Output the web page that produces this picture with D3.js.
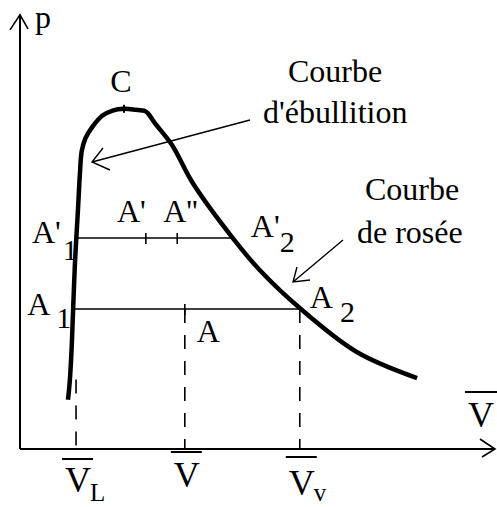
<!DOCTYPE html>
<html>
<head>
<meta charset="utf-8">
<script src="https://cdn.jsdelivr.net/npm/d3@7"></script>
<style>
  html, body { margin: 0; padding: 0; background: #fff; }
  svg { display: block; }
  text { font-family: "Liberation Serif", "Times New Roman", serif; fill: #000; }
</style>
</head>
<body>
<svg id="chart" width="497" height="507"></svg>
<script>
// Saturation dome of a binary mixture: pressure p against molar volume V̄.
// Bubble curve (left branch) joins the dew curve (right branch) at the critical point C.
const curveVolume   = [1.01, 1.05, 1.09, 1.12, 1.16, 1.22, 1.26, 1.30, 1.38, 1.52, 1.73, 1.95, 2.19, 2.43, 2.63, 2.69, 2.84, 3.20, 3.64, 4.48, 5.05, 5.89, 7.09, 8.36];
const curvePressure = [1.13, 1.59, 2.39, 3.26, 4.34, 5.49, 6.30, 6.85, 7.15, 7.40, 7.66, 7.78, 7.82, 7.80, 7.77, 7.72, 7.49, 6.99, 6.11, 4.85, 4.11, 3.24, 2.23, 1.63];

// Tie lines (isobars crossing the two-phase region)
const tieNames      = ["A'1", "A1"];
const tiePressure   = [4.85, 3.22];
const tieLiquid     = [1.22, 1.14];
const tieVapour     = [4.48, 5.89];

// Intermediate states marked on the tie lines
const markNames     = ["A'", "A''", "A"];
const markVolume    = [2.65, 3.31, 3.47];
const markPressure  = [4.85, 4.85, 3.22];

// Reference volumes projected onto the abscissa
const dropNames     = ["L", "", "v"];
const dropVolume    = [1.18, 3.47, 5.89];
const dropTop       = [1.60, 3.22, 3.22];

const critical      = { v: 2.19, p: 7.82 };

const svg = d3.select("#chart");
const x = d3.scaleLinear().domain([0, 10]).range([20, 495]);
const y = d3.scaleLinear().domain([0, 10]).range([449, 14]);

const curvePts = curveVolume.map((v, i) => [v, curvePressure[i]]);

// ---- axes with open arrowheads ----
const axisG = svg.append("g").attr("stroke", "#000").attr("stroke-width", 2).attr("fill", "none");
axisG.append("line").attr("x1", x(0)).attr("y1", y(0)).attr("x2", x(0)).attr("y2", y(9.98));
axisG.append("line").attr("x1", x(0)).attr("y1", y(0)).attr("x2", x(10)).attr("y2", y(0));
axisG.append("path").attr("stroke-width", 1.6)
  .attr("d", `M${x(0) - 10},${y(9.98) + 15} L${x(0)},${y(9.98)} L${x(0) + 8},${y(9.98) + 14}`);
axisG.append("path").attr("stroke-width", 1.6)
  .attr("d", `M${x(10) - 15},${y(0) - 10} L${x(10)},${y(0)} L${x(10) - 13},${y(0) + 8}`);

svg.append("text").attr("x", x(0) + 15).attr("y", 28).attr("font-size", 32).text("p");

// right-hand axis label: V with overbar
svg.append("line").attr("x1", 465).attr("x2", 497).attr("y1", 392).attr("y2", 392)
  .attr("stroke", "#000").attr("stroke-width", 2);
svg.append("text").attr("x", 481).attr("y", 427).attr("text-anchor", "middle")
  .attr("font-size", 36).text("V");

// ---- dashed projections to the volume axis ----
svg.append("g").selectAll("line").data(dropVolume).join("line")
  .attr("x1", d => x(d)).attr("x2", d => x(d))
  .attr("y1", (d, i) => y(dropTop[i])).attr("y2", y(0))
  .attr("stroke", "#000").attr("stroke-width", 1.6)
  .attr("stroke-dasharray", "14,12");

// ---- tie lines ----
svg.append("g").selectAll("line").data(tiePressure).join("line")
  .attr("x1", (d, i) => x(tieLiquid[i])).attr("x2", (d, i) => x(tieVapour[i]))
  .attr("y1", d => y(d)).attr("y2", d => y(d))
  .attr("stroke", "#000").attr("stroke-width", 1.6);

// ticks for the intermediate states
svg.append("g").selectAll("line").data(markVolume).join("line")
  .attr("x1", d => x(d)).attr("x2", d => x(d))
  .attr("y1", (d, i) => y(markPressure[i]) - 5).attr("y2", (d, i) => y(markPressure[i]) + 6)
  .attr("stroke", "#000").attr("stroke-width", 1.6);

// ---- saturation curve ----
svg.append("path").datum(curvePts)
  .attr("d", d3.line().x(d => x(d[0])).y(d => y(d[1])).curve(d3.curveCatmullRom.alpha(0.5)))
  .attr("fill", "none").attr("stroke", "#000").attr("stroke-width", 4.5)
  .attr("stroke-linejoin", "round");

// critical point tick
svg.append("line").attr("x1", x(critical.v)).attr("x2", x(critical.v))
  .attr("y1", y(critical.p) - 4).attr("y2", y(critical.p) + 4)
  .attr("stroke", "#000").attr("stroke-width", 2);
svg.append("text").attr("x", x(critical.v) - 3).attr("y", y(critical.p) - 17)
  .attr("text-anchor", "middle").attr("font-size", 32).text("C");

// ---- point labels (main letter + optional subscript in one text) ----
function label(px, py, main, sub, subDx, subDy) {
  const t = svg.append("text").attr("x", px).attr("y", py).attr("font-size", 32);
  t.append("tspan").text(main);
  if (sub) t.append("tspan").attr("dx", subDx).attr("dy", subDy).attr("font-size", 30).text(sub);
}
// A'1 and A1 on the liquid side
label(x(tieLiquid[0]) - 46, y(tiePressure[0]) + 5, "A'", "1", 2, 17);
label(x(tieLiquid[1]) - 47, y(tiePressure[1]) + 6, "A", "1", 6, 13);
// A'2 and A2 on the vapour side
label(x(tieVapour[0]) + 18, y(tiePressure[0]) - 1, "A'", "2", 0, 15);
label(x(tieVapour[1]) + 10, y(tiePressure[1]) - 1, "A", "2", 7, 14);
// intermediate states
label(x(markVolume[0]) - 29, y(markPressure[0]) - 16, markNames[0]);
label(x(markVolume[1]) - 14, y(markPressure[1]) - 16, markNames[1]);
label(x(markVolume[2]) + 12, y(markPressure[2]) + 33, markNames[2]);

// ---- labels under the volume axis ----
const baseY  = [492, 487, 495];
const barY   = [459, 452, 457];
dropVolume.forEach((v, i) => {
  const cx = x(v) + 1;
  svg.append("line").attr("x1", cx - 15).attr("x2", cx + 16).attr("y1", barY[i]).attr("y2", barY[i])
    .attr("stroke", "#000").attr("stroke-width", 2);
  const t = svg.append("text").attr("x", cx - 12).attr("y", baseY[i]).attr("font-size", 36);
  t.append("tspan").text("V");
  if (dropNames[i]) t.append("tspan").attr("dx", -1).attr("dy", i === 0 ? 9 : 6)
    .attr("font-size", 25).text(dropNames[i]);
});

// ---- curve names with pointer arrows ----
svg.append("text").attr("x", 288).attr("y", 82).attr("font-size", 32).text("Courbe");
svg.append("text").attr("x", 263).attr("y", 123).attr("font-size", 32).text("d'ébullition");
svg.append("text").attr("x", 365).attr("y", 200).attr("font-size", 32).text("Courbe");
svg.append("text").attr("x", 357).attr("y", 243).attr("font-size", 32).text("de rosée");

const arrows = [
  { from: [250, 120], tip: [92, 162], a: [103, 148], b: [110, 170] },
  { from: [343, 240], tip: [293, 282], a: [297, 267], b: [310, 280] }
];
svg.append("g").selectAll("path").data(arrows).join("path")
  .attr("d", d => `M${d.from} L${d.tip} M${d.a} L${d.tip} L${d.b}`)
  .attr("fill", "none").attr("stroke", "#000").attr("stroke-width", 1.4);
</script>
</body>
</html>
